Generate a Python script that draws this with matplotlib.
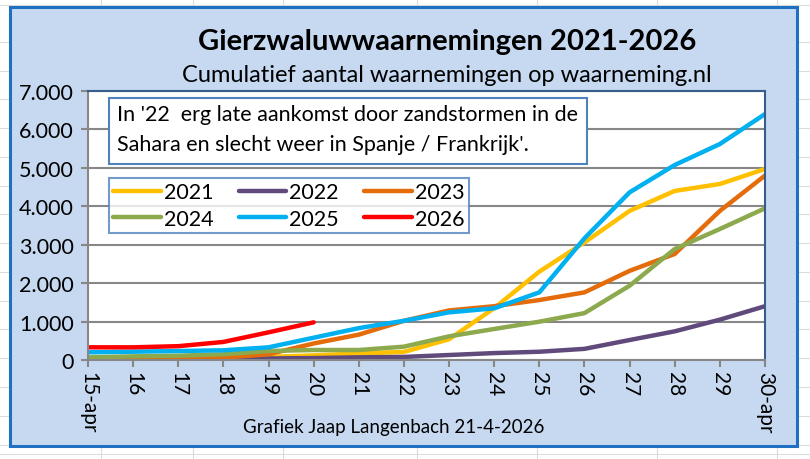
import matplotlib
matplotlib.use("Agg")
import matplotlib.pyplot as plt
from matplotlib.patches import Rectangle
from matplotlib.lines import Line2D

plt.rcParams['font.family'] = ['Lato', 'DejaVu Sans']

# dagen in april
days = [15, 16, 17, 18, 19, 20, 21, 22, 23, 24, 25, 26, 27, 28, 29, 30]
day_labels = ['15-apr', '16', '17', '18', '19', '20', '21', '22', '23', '24',
              '25', '26', '27', '28', '29', '30-apr']

y2021 = [10, 20, 30, 50, 80, 120, 170, 210, 540, 1350, 2300, 3060, 3880, 4400, 4580, 4970]
y2022 = [5, 10, 15, 25, 40, 50, 70, 80, 130, 180, 215, 290, 520, 746, 1050, 1400]
y2023 = [20, 30, 40, 60, 150, 430, 660, 1020, 1290, 1400, 1560, 1760, 2320, 2760, 3880, 4800]
y2024 = [70, 95, 112, 148, 234, 260, 260, 347, 616, 807, 997, 1220, 1933, 2888, 3409, 3947]
y2025 = [200, 216, 234, 252, 330, 580, 830, 1020, 1240, 1345, 1760, 3167, 4363, 5074, 5620, 6400]
y2026 = [330, 330, 360, 470, 720, 980]

yticks = [0, 1000, 2000, 3000, 4000, 5000, 6000, 7000]
ytick_labels = ['0', '1.000', '2.000', '3.000', '4.000', '5.000', '6.000', '7.000']

W, H = 810, 460
fig = plt.figure(figsize=(W / 100, H / 100), dpi=100)
fig.patch.set_facecolor('white')

# spreadsheet raster op de achtergrond
for yy in [6, 43, 72, 100, 129, 158, 187, 215, 244, 273, 302, 330, 359, 388, 417, 446, 455]:
    fig.add_artist(Line2D([0, 1], [1 - yy / H, 1 - yy / H], color='#dcdcdc', lw=0.8, zorder=0))
for xx in [101, 193, 283, 417, 537, 657, 777]:
    fig.add_artist(Line2D([xx / W, xx / W], [0, 1], color='#dcdcdc', lw=0.8, zorder=0))

# grafiekgebied
fig.add_artist(Rectangle((10 / W, 1 - 447 / H), 787 / W, 439 / H, transform=fig.transFigure,
                         facecolor='#C6D9F1', edgecolor='#1F70C1', lw=2.2, zorder=1))

ax = fig.add_axes([88 / W, 1 - 361 / H, 677 / W, 269 / H], zorder=2)
ax.set_facecolor('white')

l21, = ax.plot(days, y2021, color='#FFC000', lw=3.2, label='2021', solid_capstyle='round')
l22, = ax.plot(days, y2022, color='#604A7B', lw=3.2, label='2022', solid_capstyle='round')
l23, = ax.plot(days, y2023, color='#E46C0A', lw=3.2, label='2023', solid_capstyle='round')
l24, = ax.plot(days, y2024, color='#8CA94E', lw=3.2, label='2024', solid_capstyle='round')
l25, = ax.plot(days, y2025, color='#00B0F0', lw=3.2, label='2025', solid_capstyle='round')
l26, = ax.plot(days[:len(y2026)], y2026, color='#FF0000', lw=3.2, label='2026', solid_capstyle='round')

ax.set_xlim(15, 30)
ax.set_ylim(0, 7000)
ax.set_xticks(days)
ax.set_xticklabels(day_labels, rotation=270, fontsize=15, va='top', ha='center')
ax.set_yticks(yticks)
ax.set_yticklabels(ytick_labels, fontsize=15.5)
ax.yaxis.grid(True, color='#878787', lw=1.5)
ax.set_axisbelow(True)
ax.tick_params(axis='both', direction='out', length=5, width=1.5, color='#878787', pad=3)
ax.tick_params(axis='y', pad=5)
for s in ['left', 'bottom']:
    ax.spines[s].set_color('#878787')
    ax.spines[s].set_linewidth(1.5)
for s in ['top', 'right']:
    ax.spines[s].set_color('#385D8A')
    ax.spines[s].set_linewidth(1.5)

# legenda rij voor rij: volgorde aangepast want matplotlib vult per kolom
handles = [l21, l24, l22, l25, l23, l26]
leg = ax.legend(handles=handles, labels=[h.get_label() for h in handles], ncol=3,
                loc='upper left', bbox_to_anchor=(21 / 677, 1 - 87 / 269, 360 / 677, 0),
                mode='expand', fontsize=15.5, frameon=True, fancybox=False, borderaxespad=0,
                handlelength=2.2, handletextpad=0.15, columnspacing=1.2, labelspacing=0.3,
                borderpad=0.2)
leg.get_frame().set_edgecolor('#4F81BD')
leg.get_frame().set_linewidth(1.5)

# tekstvak
fig.add_artist(Rectangle((109 / W, 1 - 165 / H), 478 / W, 66 / H, transform=fig.transFigure,
                         facecolor='white', edgecolor='#4F81BD', lw=1.5, zorder=3))
fig.text(117 / W, 1 - 115 / H, "In '22  erg late aankomst door zandstormen in de",
         fontsize=15.5, va='center', ha='left', zorder=4)
fig.text(117 / W, 1 - 145 / H, "Sahara en slecht weer in Spanje / Frankrijk'.",
         fontsize=15.5, va='center', ha='left', zorder=4)

fig.text(447 / W, 1 - 42 / H, 'Gierzwaluwwaarnemingen 2021-2026', fontsize=21,
         fontweight='bold', ha='center', va='center', zorder=4)
fig.text(447 / W, 1 - 75 / H, 'Cumulatief aantal waarnemingen op waarneming.nl', fontsize=17,
         ha='center', va='center', zorder=4)
fig.text(394 / W, 1 - 428 / H, 'Grafiek Jaap Langenbach 21-4-2026', fontsize=13.5,
         ha='center', va='center', zorder=4)

fig.savefig('out.png', dpi=100)
